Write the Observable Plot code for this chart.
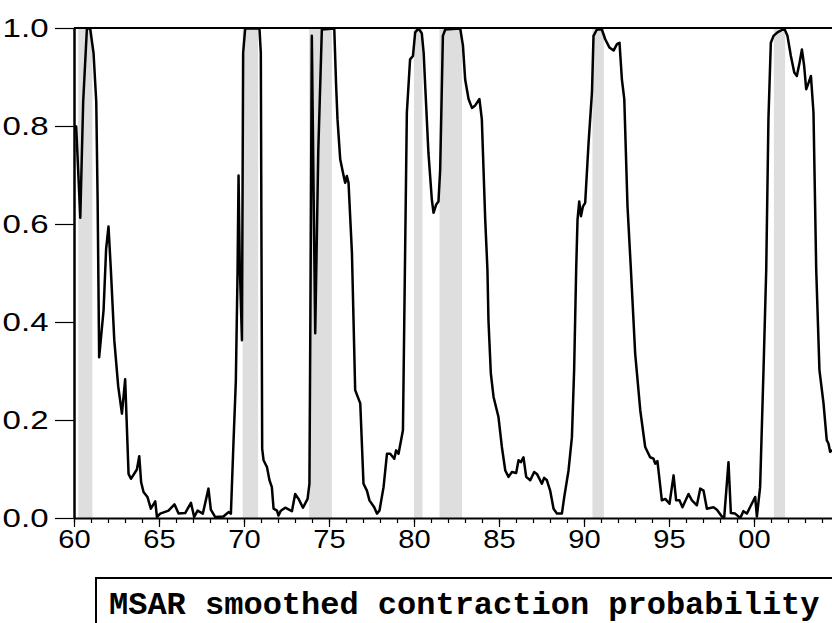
<!DOCTYPE html>
<html>
<head>
<meta charset="utf-8">
<script src="https://cdn.jsdelivr.net/npm/d3@7"></script>
<script src="https://cdn.jsdelivr.net/npm/@observablehq/plot@0.6"></script>
<style>
  html, body { margin: 0; padding: 0; overflow: hidden; background: #fff; width: 832px; height: 623px; }
  #legend {
    position: absolute; left: 95px; top: 577px; width: 800px; height: 80px;
    border: 2px solid #000; border-right: none; box-sizing: border-box;
    padding: 8px 0 0 12px;
    font-family: "Liberation Mono", "Courier New", monospace; font-weight: bold;
    font-size: 32px; line-height: normal; white-space: nowrap; color: #000;
  }
</style>
</head>
<body>
<div id="chart"></div>
<div id="legend">MSAR smoothed contraction probability</div>
<script>
// Dates (decimal years) and smoothed contraction probabilities
const years = [
  1960.00,1960.10,1960.34,1960.51,1960.73,1960.92,1961.12,1961.28,1961.36,1961.45,
  1961.71,1961.86,1962.00,1962.14,1962.34,1962.57,1962.79,1962.98,1963.18,1963.32,
  1963.67,1963.81,1963.92,1964.06,1964.29,1964.49,1964.75,1964.85,1965.04,1965.53,
  1965.88,1966.12,1966.51,1966.85,1967.04,1967.24,1967.55,1967.88,1968.02,1968.28,
  1968.76,1969.06,1969.20,1969.35,1969.49,1969.59,1969.65,1969.72,1969.85,1969.92,
  1970.04,1970.88,1970.96,1971.04,1971.12,1971.32,1971.47,1971.61,1971.71,1971.91,
  1972.00,1972.14,1972.39,1972.79,1972.98,1973.18,1973.44,1973.71,1973.82,1973.89,
  1973.96,1974.07,1974.16,1974.34,1974.55,1975.28,1975.39,1975.47,1975.63,1975.79,
  1975.92,1976.02,1976.12,1976.32,1976.51,1976.81,1977.00,1977.20,1977.35,1977.63,
  1977.79,1977.94,1978.18,1978.38,1978.57,1978.81,1978.92,1979.06,1979.32,1979.45,
  1979.55,1979.74,1979.91,1980.04,1980.24,1980.43,1980.54,1980.63,1980.82,1981.02,
  1981.12,1981.28,1981.41,1981.51,1981.67,1981.81,1982.69,1982.85,1982.98,1983.18,
  1983.38,1983.57,1983.82,1983.96,1984.16,1984.29,1984.35,1984.49,1984.65,1984.94,
  1985.14,1985.34,1985.53,1985.73,1985.98,1986.12,1986.26,1986.41,1986.57,1986.81,
  1987.04,1987.20,1987.35,1987.49,1987.63,1987.79,1987.98,1988.18,1988.38,1988.67,
  1988.81,1989.06,1989.26,1989.39,1989.51,1989.59,1989.69,1989.79,1989.91,1990.04,
  1990.24,1990.44,1990.53,1990.73,1991.02,1991.22,1991.47,1991.71,1991.91,1992.06,
  1992.20,1992.34,1992.53,1992.73,1992.98,1993.28,1993.57,1993.86,1994.06,1994.16,
  1994.29,1994.55,1994.75,1995.00,1995.24,1995.39,1995.59,1995.76,1996.12,1996.32,
  1996.61,1996.81,1997.00,1997.20,1997.59,1997.79,1998.08,1998.22,1998.47,1998.61,
  1998.86,1999.16,1999.35,1999.55,1999.84,2000.04,2000.14,2000.33,2000.53,2000.69,
  2000.82,2000.96,2001.12,2001.35,2001.51,2001.75,2001.94,2002.14,2002.34,2002.49,
  2002.65,2002.79,2002.92,2003.04,2003.18,2003.32,2003.47,2003.63,2003.82,2004.06,
  2004.25,2004.35,2004.45,2004.57
];
const probability = [
  0.800,0.800,0.614,0.850,1.000,1.000,0.950,0.850,0.650,0.329,
  0.425,0.550,0.596,0.507,0.364,0.270,0.214,0.284,0.091,0.081,
  0.100,0.127,0.074,0.054,0.044,0.020,0.035,0.003,0.010,0.016,
  0.029,0.010,0.011,0.032,0.003,0.016,0.010,0.061,0.018,0.003,
  0.004,0.013,0.010,0.153,0.280,0.500,0.700,0.520,0.364,0.950,
  1.000,1.000,0.950,0.142,0.119,0.105,0.078,0.064,0.020,0.016,
  0.006,0.016,0.022,0.015,0.050,0.040,0.022,0.040,0.071,0.500,
  0.985,0.650,0.378,0.750,0.998,1.000,0.883,0.815,0.733,0.706,
  0.685,0.699,0.685,0.542,0.262,0.235,0.071,0.057,0.037,0.023,
  0.010,0.016,0.064,0.132,0.132,0.122,0.139,0.132,0.180,0.550,
  0.828,0.937,0.944,0.992,1.000,0.990,0.950,0.883,0.746,0.651,
  0.624,0.641,0.647,0.712,0.985,0.998,1.000,0.965,0.896,0.856,
  0.838,0.843,0.856,0.815,0.610,0.508,0.405,0.296,0.248,0.207,
  0.146,0.098,0.085,0.095,0.093,0.119,0.115,0.125,0.085,0.078,
  0.095,0.091,0.081,0.071,0.083,0.078,0.057,0.020,0.010,0.010,
  0.044,0.098,0.166,0.303,0.508,0.610,0.647,0.617,0.637,0.644,
  0.767,0.870,0.985,0.998,0.998,0.978,0.961,0.955,0.968,0.971,
  0.896,0.856,0.637,0.508,0.337,0.221,0.146,0.125,0.122,0.112,
  0.117,0.037,0.040,0.030,0.088,0.037,0.037,0.023,0.050,0.037,
  0.027,0.061,0.057,0.020,0.023,0.018,0.004,0.003,0.115,0.011,
  0.010,0.001,0.015,0.010,0.030,0.044,0.004,0.064,0.303,0.508,
  0.815,0.971,0.985,0.992,0.995,1.000,0.985,0.944,0.910,0.903,
  0.930,0.957,0.924,0.876,0.889,0.903,0.828,0.508,0.303,0.235,
  0.160,0.153,0.136,0.139
];
// NBER recession shading (start, end)
const recessionStart = [1960.25, 1969.92, 1973.83, 1980.00, 1981.50, 1990.50, 2001.17];
const recessionEnd   = [1961.08, 1970.83, 1975.17, 1980.50, 1982.83, 1991.17, 2001.83];
// Axis ticks and labels
const xMajorTicks = [1960, 1965, 1970, 1975, 1980, 1985, 1990, 1995, 2000];
const xTickLabels = ["60", "65", "70", "75", "80", "85", "90", "95", "00"];
const xMinorTicks = d3.range(1960, 2005);
const yTicks = [0, 0.2, 0.4, 0.6, 0.8, 1.0];
const yTickLabels = ["0.0", "0.2", "0.4", "0.6", "0.8", "1.0"];

const series = years.map((y, i) => ({year: y, p: probability[i]}));
const bands = recessionStart.map((s, i) => ({start: s, end: recessionEnd[i]}));
const xLabels = xMajorTicks.map((t, i) => ({t, label: xTickLabels[i]}));
const yLabels = yTicks.map((t, i) => ({t, label: yTickLabels[i]}));

const W = 832, H = 568, mL = 74, mT = 28, mB = 50;
const xEnd = 1960 + (W - mL) / 17;
const FONT = "Liberation Sans, Arial, sans-serif";

const chart = Plot.plot({
  width: W, height: H,
  marginLeft: mL, marginRight: 0, marginTop: mT, marginBottom: mB,
  style: {background: "white", overflow: "visible"},
  x: {domain: [1960, xEnd], axis: null},
  y: {domain: [0, 1], axis: null},
  marks: [
    Plot.rect(bands, {x1: "start", x2: "end", y1: 0, y2: 1, fill: "#dedede"}),
    Plot.line(series, {x: "year", y: "p", stroke: "black", strokeWidth: 2.5, strokeLinejoin: "round", clip: true}),
    Plot.ruleY([0], {stroke: "black", strokeWidth: 2}),
    Plot.ruleY([1], {stroke: "black", strokeWidth: 2, dy: -0.5}),
    Plot.ruleX([1960], {stroke: "black", strokeWidth: 2.5}),
    Plot.axisX({ticks: xMinorTicks, tickSize: 5, tickFormat: () => "", stroke: "black", strokeWidth: 1.2}),
    Plot.axisX({ticks: xMajorTicks, tickSize: 9, tickFormat: () => "", stroke: "black", strokeWidth: 1.2}),
    Plot.axisY({ticks: yTicks, tickSize: 19, tickFormat: () => "", stroke: "black", strokeWidth: 1.2}),
    Plot.text(xLabels, {x: "t", y: 0, text: "label", dy: 11, lineAnchor: "top", textAnchor: "middle",
      fontSize: 26, fontFamily: FONT, fill: "black"}),
    Plot.text(yLabels, {x: 1960, y: "t", text: "label", dx: -26, textAnchor: "end",
      fontSize: 26, fontFamily: FONT, fill: "black"})
  ]
});
document.getElementById("chart").appendChild(chart);

// Widen the tick-label glyphs horizontally, as in the original graphic
const SXx = 1.12, SXy = 1.27;
const labelSet = new Set([...xTickLabels, ...yTickLabels]);
chart.querySelectorAll("text").forEach(t => {
  if (!labelSet.has(t.textContent)) return;
  const b = t.getBBox();
  const isY = yTickLabels.includes(t.textContent);
  const ox = isY ? b.x + b.width : b.x + b.width / 2;
  const sx = isY ? SXy : SXx;
  const tr = t.getAttribute("transform") || "";
  t.setAttribute("transform", `${tr} translate(${ox},0) scale(${sx},1) translate(${-ox},0)`);
});
</script>
</body>
</html>
